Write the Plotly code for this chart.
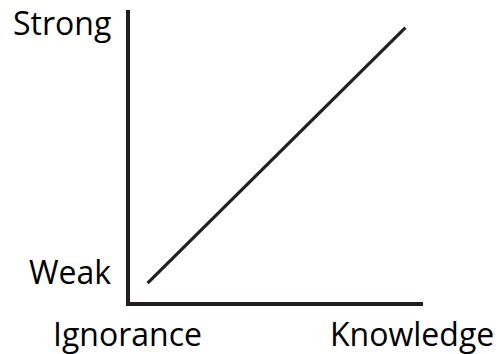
import plotly.graph_objects as go

# Data
knowledge = [6, 94]
strength = [6.5, 94]
x_labels = ["Ignorance", "Knowledge"]
x_label_pos = [0, 96.2]
y_labels = ["Weak", "Strong"]
y_label_pos = [10.3, 95.8]

ink = "#231f20"
font = dict(family="Open Sans", size=32, color="#000000")

fig = go.Figure()
fig.add_trace(go.Scatter(x=knowledge, y=strength, mode="lines",
                         line=dict(color=ink, width=3.2), hoverinfo="skip",
                         showlegend=False))

annotations = []
for t, xv in zip(x_labels, x_label_pos):
    annotations.append(dict(x=xv, y=0, xref="x", yref="y", text=t, showarrow=False,
                            xanchor="center", yanchor="top", yshift=-8,
                            xshift=-2.5 if xv == 0 else 0, font=font))
for t, yv in zip(y_labels, y_label_pos):
    annotations.append(dict(x=0, y=yv, xref="x", yref="y", text=t, showarrow=False,
                            xanchor="right", yanchor="middle", xshift=-17, font=font))

fig.update_layout(
    width=503, height=354,
    margin=dict(l=130, r=80, t=10, b=52),
    paper_bgcolor="white", plot_bgcolor="white",
    xaxis=dict(range=[0, 100], showgrid=False, zeroline=False, showticklabels=False,
               ticks="", showline=True, linecolor=ink, linewidth=3.5, fixedrange=True),
    yaxis=dict(range=[0, 100], showgrid=False, zeroline=False, showticklabels=False,
               ticks="", showline=True, linecolor=ink, linewidth=3.5, fixedrange=True),
    annotations=annotations,
)

fig.write_html("out.html", config={"displayModeBar": False},
               post_script="document.body.style.margin='0';document.body.style.overflow='hidden';")
